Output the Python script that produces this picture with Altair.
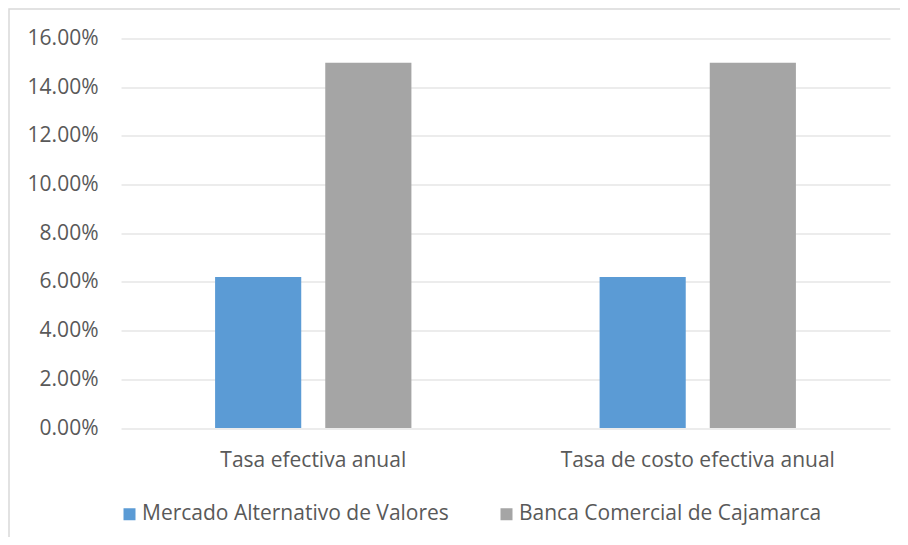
import altair as alt
import pandas as pd

categories = ["Tasa efectiva anual", "Tasa de costo efectiva anual"]
series = ["Mercado Alternativo de Valores", "Banca Comercial de Cajamarca"]
mercado_values = [0.062, 0.062]
banca_values = [0.15, 0.15]
y_ticks = [0, 0.02, 0.04, 0.06, 0.08, 0.10, 0.12, 0.14, 0.16]
colors = ["#5B9BD5", "#A5A5A5"]

rows = []
for i, c in enumerate(categories):
    rows.append({"cat": c, "serie": series[0], "val": mercado_values[i]})
    rows.append({"cat": c, "serie": series[1], "val": banca_values[i]})
df = pd.DataFrame(rows)

FONT = "Open Sans"
TXT = "#595959"
FS = 21

bars = alt.Chart(df).mark_bar().encode(
    x=alt.X("cat:N", sort=categories, title=None,
            scale=alt.Scale(paddingInner=0, paddingOuter=0),
            axis=alt.Axis(labelAngle=0, ticks=False, domain=False, grid=False,
                          labelFontSize=FS, labelColor=TXT, labelFont=FONT,
                          labelPadding=21, labelLimit=400)),
    xOffset=alt.XOffset("serie:N", sort=series,
                        scale=alt.Scale(paddingInner=0.218, paddingOuter=0.854)),
    y=alt.Y("val:Q", title=None,
            scale=alt.Scale(domain=[0, 0.16], nice=False),
            axis=alt.Axis(values=y_ticks, format=".2%", ticks=False, domain=False,
                          gridColor="#d9d9d9", gridWidth=1.2,
                          labelFontSize=FS, labelColor=TXT, labelFont=FONT,
                          labelPadding=23)),
    color=alt.Color("serie:N", sort=series,
                    scale=alt.Scale(domain=series, range=colors),
                    legend=alt.Legend(title=None, orient="none", direction="horizontal",
                                      legendX=-2, legendY=465,
                                      symbolType="square", symbolSize=144,
                                      symbolStrokeWidth=0, labelOffset=2,
                                      columnPadding=47,
                                      labelFontSize=FS, labelColor=TXT,
                                      labelFont=FONT, labelLimit=400)),
)

border = alt.Chart(alt.Data(values=[{}])).mark_rect(
    fillOpacity=0, stroke="#d9d9d9", strokeWidth=1.5
).encode(
    x=alt.value(-112), x2=alt.value(900),
    y=alt.value(-29.5), y2=alt.value(700),
)

chart = alt.layer(border, bars).properties(
    width=769, height=389.5,
    background="white",
    autosize=alt.AutoSizeParams(type="none"),
    padding={"left": 113, "top": 30.5, "right": 10, "bottom": 109},
).configure_view(stroke=None)

chart.save("out.html", embed_options={"renderer": "svg", "actions": False})
